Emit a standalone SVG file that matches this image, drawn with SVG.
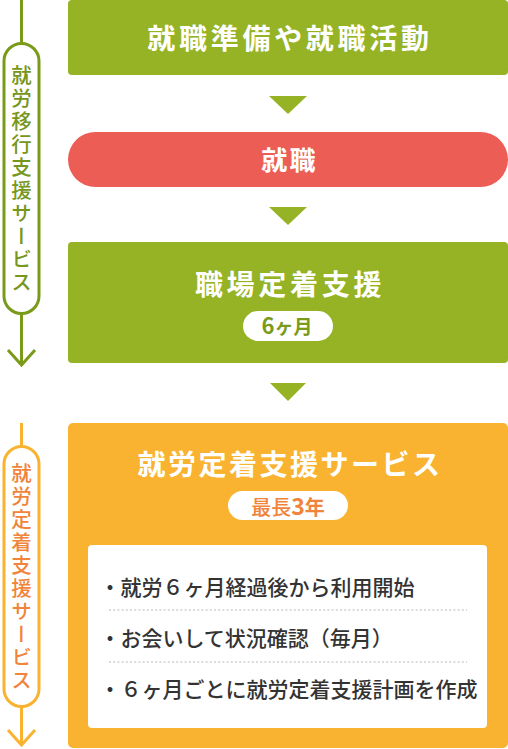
<svg xmlns="http://www.w3.org/2000/svg" width="508" height="749" viewBox="0 0 508 749">
<style>
text{font-family:"Noto Sans CJK JP","Noto Sans",sans-serif;}
.t{fill:#fff;font-weight:700;text-anchor:middle;}
.g{fill:#95b324;}
.side{fill:none;stroke-width:3;}
.vt{font-weight:500;font-size:20.5px;letter-spacing:2.6px;writing-mode:vertical-rl;text-anchor:middle;}
.li{fill:#333;font-size:21px;font-weight:500;}
.dot{stroke:#cfcfcf;stroke-width:1.5;stroke-dasharray:2 2.2;fill:none;}
</style>
<g id="side-transition">
<path class="side" stroke="#7a9a1a" d="M21.5 0V43.5M21.5 313.5V365"/>
<rect class="side" stroke="#7a9a1a" x="4" y="43.5" width="35" height="270" rx="17.5" fill="#fff"/>
<path class="side" stroke="#7a9a1a" stroke-width="3.5" d="M8 350L21.5 365L35 350"/>
<text class="vt" x="21.5" y="180" fill="#76961c">就労移行支援サービス</text>
</g>
<g id="side-retention">
<path class="side" stroke="#f9b330" d="M21.5 423V446.5M21.5 706.5V745"/>
<rect class="side" stroke="#f9b330" x="4" y="446.5" width="35" height="260" rx="17.5" fill="#fff"/>
<path class="side" stroke="#f9b330" stroke-width="3.5" d="M8 730L21.5 745L35 730"/>
<text class="vt" x="21.5" y="578" fill="#f0843a">就労定着支援サービス</text>
</g>
<g id="connectors">
<polygon class="g" points="269,96 307,96 288,114"/>
<polygon class="g" points="269,207 307,207 288,225"/>
<polygon class="g" points="270,383 306,383 288,401"/>
</g>
<g id="node-prep">
<rect class="g" x="68" y="0" width="440" height="75" rx="4"/>
<text class="t" x="290" y="49" font-size="28" letter-spacing="3.7">就職準備や就職活動</text>
</g>
<g id="node-hire">
<rect x="68" y="132" width="440" height="55" rx="27.5" fill="#ec5d56"/>
<text class="t" x="289.5" y="170" font-size="26" letter-spacing="2.3">就職</text>
</g>
<g id="node-support">
<rect class="g" x="68" y="242" width="440" height="121" rx="4"/>
<text class="t" x="290" y="295" font-size="28" letter-spacing="3.7">職場定着支援</text>
<rect x="243" y="311" width="90" height="30" rx="15" fill="#fff"/>
<text x="287" y="334" font-size="19" font-weight="700" text-anchor="middle" fill="#7a9a1a"><tspan font-size="22">6</tspan>ヶ月</text>
</g>
<g id="node-service">
<rect x="68" y="423" width="440" height="325" rx="5" fill="#f9b330"/>
<text class="t" x="290" y="475" font-size="28" letter-spacing="2.5">就労定着支援サービス</text>
<rect x="228" y="491" width="120" height="29" rx="14.5" fill="#fff"/>
<text x="288" y="515" font-size="20" font-weight="500" text-anchor="middle" fill="#f0843a">最長<tspan font-size="23" font-weight="700">3</tspan><tspan font-weight="700">年</tspan></text>
<rect x="88" y="545" width="399" height="183" rx="4" fill="#fff"/>
<text class="li" x="99.5" y="595">・就労６ヶ月経過後から利用開始</text>
<line class="dot" x1="109" y1="610" x2="467" y2="610"/>
<text class="li" x="99.5" y="646">・お会いして状況確認（毎月）</text>
<line class="dot" x1="109" y1="662" x2="467" y2="662"/>
<text class="li" x="99.5" y="697">・６ヶ月ごとに就労定着支援計画を作成</text>
</g>
</svg>
